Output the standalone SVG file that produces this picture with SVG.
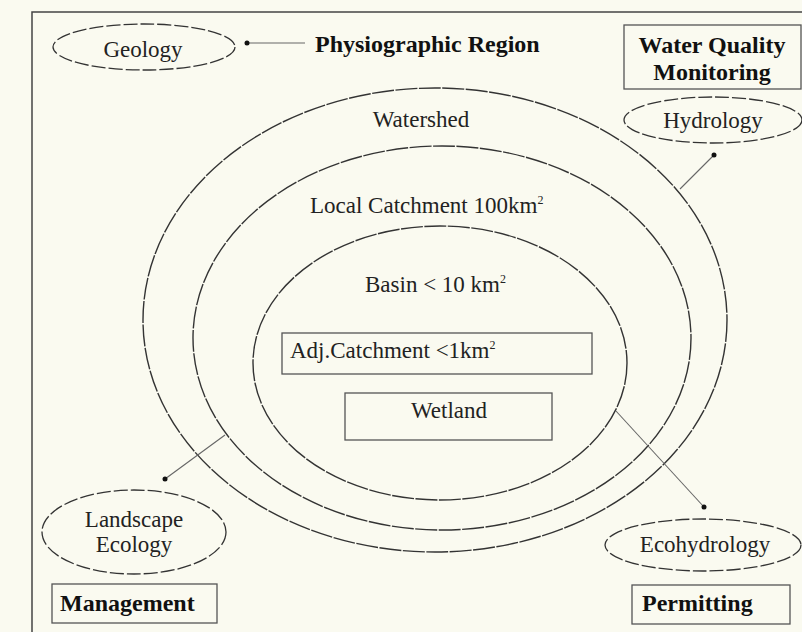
<svg xmlns="http://www.w3.org/2000/svg" width="802" height="632" viewBox="0 0 802 632">
<style>
.bg{fill:#fafaf0}
.frame{fill:none;stroke:#444;stroke-width:1.5}
.big{fill:none;stroke:#333;stroke-width:1.4;stroke-dasharray:22 1.5}
.small{fill:none;stroke:#333;stroke-width:1.3;stroke-dasharray:14 3}
.box{fill:none;stroke:#555;stroke-width:1.3}
.conn{fill:none;stroke:#666;stroke-width:1.1}
text{font-family:"Liberation Serif","Times New Roman",serif;fill:#222;font-size:23px}
.b{font-weight:bold;fill:#111;font-size:24px}
.sup{font-size:12px}
</style>
<defs>
<marker id="dot" viewBox="0 0 6 6" refX="3" refY="3" markerWidth="6" markerHeight="6" markerUnits="userSpaceOnUse">
<circle cx="3" cy="3" r="2.5" fill="#111"/>
</marker>
</defs>
<rect class="bg" x="0" y="0" width="802" height="632"/>
<path class="frame" d="M32,632 V12 H802"/>

<g id="watershed">
<ellipse class="big" cx="435" cy="320" rx="292" ry="232"/>
<text x="421" y="127" text-anchor="middle">Watershed</text>
</g>
<g id="local-catchment">
<ellipse class="big" cx="442" cy="338" rx="249" ry="192"/>
<text x="310" y="213">Local Catchment 100km<tspan class="sup" dy="-9">2</tspan></text>
</g>
<g id="basin">
<ellipse class="big" cx="440" cy="363" rx="187" ry="137"/>
<text x="365" y="292">Basin &lt; 10 km<tspan class="sup" dy="-9">2</tspan></text>
</g>
<g id="adj-catchment">
<rect class="box" x="282" y="333" width="310" height="41"/>
<text x="290" y="358">Adj.Catchment &lt;1km<tspan class="sup" dy="-9">2</tspan></text>
</g>
<g id="wetland">
<rect class="box" x="345" y="393" width="207" height="47"/>
<text x="449" y="418" text-anchor="middle">Wetland</text>
</g>

<g id="geology">
<ellipse class="small" cx="144" cy="47" rx="91" ry="23"/>
<text x="143" y="57" text-anchor="middle">Geology</text>
</g>
<g id="physiographic-region">
<text class="b" x="315" y="52">Physiographic Region</text>
</g>
<g id="water-quality-monitoring">
<rect class="box" x="624" y="25" width="177" height="64"/>
<text class="b" x="712" y="53" text-anchor="middle">Water Quality</text>
<text class="b" x="712" y="80" text-anchor="middle">Monitoring</text>
</g>
<g id="hydrology">
<ellipse class="small" cx="713" cy="120" rx="89" ry="23"/>
<text x="713" y="128" text-anchor="middle">Hydrology</text>
</g>
<g id="landscape-ecology">
<ellipse class="small" cx="134" cy="532" rx="92" ry="42"/>
<text x="134" y="527" text-anchor="middle">Landscape</text>
<text x="134" y="552" text-anchor="middle">Ecology</text>
</g>
<g id="management">
<rect class="box" x="52" y="584" width="165" height="39"/>
<text class="b" x="60" y="611">Management</text>
</g>
<g id="ecohydrology">
<ellipse class="small" cx="703" cy="545" rx="98" ry="26"/>
<text x="705" y="552" text-anchor="middle">Ecohydrology</text>
</g>
<g id="permitting">
<rect class="box" x="632" y="585" width="158" height="39"/>
<text class="b" x="642" y="611">Permitting</text>
</g>

<g id="connectors">
<line class="conn" x1="305" y1="43" x2="247" y2="43" marker-end="url(#dot)"/>
<line class="conn" x1="680" y1="189" x2="714" y2="155" marker-end="url(#dot)"/>
<line class="conn" x1="225" y1="435" x2="165" y2="479" marker-end="url(#dot)"/>
<line class="conn" x1="616" y1="411" x2="704" y2="507" marker-end="url(#dot)"/>
</g>
</svg>
